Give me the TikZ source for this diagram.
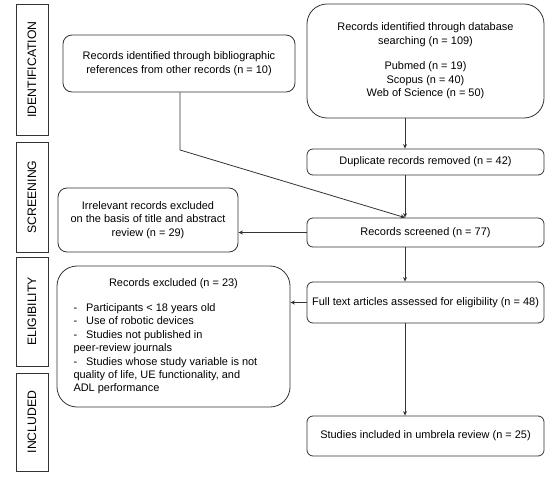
\documentclass[tikz,border=0pt]{standalone}
\usepackage{fontspec}
\setmainfont{Liberation Sans}
\usetikzlibrary{arrows.meta,calc}
\definecolor{ln}{HTML}{333333}
\begin{document}
\begin{tikzpicture}[x=1bp,y=-1bp,
  phase/.style={draw=ln,line width=0.8bp,minimum width=32bp,inner sep=0pt,font=\fontsize{12.3}{14}\selectfont},
  box/.style={draw=ln,line width=0.8bp,rounded corners=6bp,inner sep=2bp,align=center,font=\fontsize{11}{13.5}\selectfont},
  arr/.style={draw=ln,line width=0.8bp,-{Stealth[length=4.5bp,width=4bp]}}]
\useasboundingbox (0,0) rectangle (550,477);
% phases
\node[phase,minimum height=131bp] (pid) at (32,69.5) {\rotatebox{90}{IDENTIFICATION}};
\node[phase,minimum height=110bp] (pscr) at (32,197) {\rotatebox{90}{SCREENING}};
\node[phase,minimum height=109bp] (peli) at (32,311.5) {\rotatebox{90}{ELIGIBILITY}};
\node[phase,minimum height=98bp] (pinc) at (32,422) {\rotatebox{90}{INCLUDED}};
% boxes
\node[box,rounded corners=9bp,minimum width=232bp,minimum height=57bp] (bib) at (179,63.5)
  {Records identified through bibliographic\\references from other records (n = 10)};
\node[box,rounded corners=20bp,minimum width=237bp,minimum height=114bp] (db) at (425.5,61)
  {Records identified through database\\searching (n = 109)\\[12bp]Pubmed (n = 19)\\Scopus (n = 40)\\Web of Science (n = 50)};
\node[box,minimum width=237bp,minimum height=26bp] (dup) at (425.5,162) {Duplicate records removed (n = 42)};
\node[box,minimum width=237bp,minimum height=29bp] (scrd) at (425.5,232.5) {Records screened (n = 77)};
\node[box,rounded corners=9bp,minimum width=180bp,minimum height=64bp] (irr) at (148,220)
  {Irrelevant records excluded\\on the basis of title and abstract\\review (n = 29)};
\node[box,minimum width=237bp,minimum height=41bp] (full) at (425.5,302.5) {Full text articles assessed for eligibility (n = 48)};
\node[box,rounded corners=20bp,minimum width=233bp,minimum height=141bp,align=left] (excl) at (173.5,336.5)
  {\makebox[200bp][c]{Records excluded (n = 23)}\\[11bp]
   -\hspace{9bp}Participants < 18 years old\\
   -\hspace{9bp}Use of robotic devices\\
   -\hspace{9bp}Studies not published in\\
   peer-review journals\\
   -\hspace{9bp}Studies whose study variable is not\\
   quality of life, UE functionality, and\\
   ADL performance};
\node[box,minimum width=237bp,minimum height=40bp] (incl) at (425.5,436) {Studies included in umbrela review (n = 25)};
% connectors
\coordinate (spine) at (405,0);
\coordinate (bx) at (180,0);
\coordinate (bend) at (180,150);
\draw[arr] (db.south -| spine) -- (dup.north -| spine);
\draw[arr] (dup.south -| spine) -- (scrd.north -| spine);
\draw[arr] (bib.south -| bx) -- (bend) -- (scrd.north -| spine);
\draw[arr] (scrd.west) -- (scrd.west -| irr.east);
\draw[arr] (scrd.south -| spine) -- (full.north -| spine);
\draw[arr] (full.west) -- (full.west -| excl.east);
\draw[arr] (full.south -| spine) -- (incl.north -| spine);
\end{tikzpicture}
\end{document}
